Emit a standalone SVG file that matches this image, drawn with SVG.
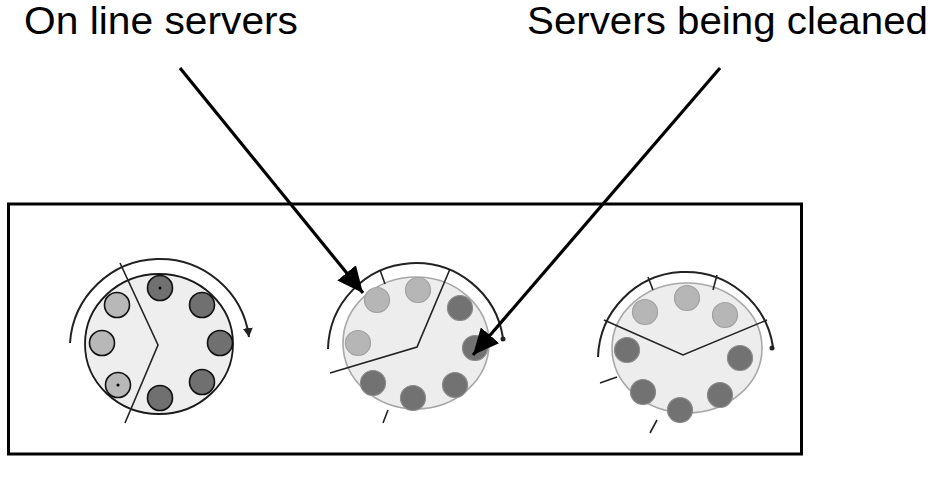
<svg xmlns="http://www.w3.org/2000/svg" width="930" height="482" viewBox="0 0 930 482">
<defs>
<style>
.lbl{font-family:"Liberation Sans",Arial,sans-serif;font-size:39px;fill:#000}
.ptr{stroke:#000;stroke-width:3.2;fill:none}
.wheel1{fill:#eeeeee;stroke:#1a1a1a;stroke-width:1.8}
.wheel2{fill:#ededed;stroke:#a8a8a8;stroke-width:1.6}
.arc{fill:none;stroke:#222;stroke-width:2}
.ln{fill:none;stroke:#222;stroke-width:1.6}
.d1{fill:#707070;stroke:#111;stroke-width:1.6}
.l1{fill:#b8b8b8;stroke:#111;stroke-width:1.6}
.d2{fill:#727272;stroke:#8a8a8a;stroke-width:1.2}
.l2{fill:#b6b6b6;stroke:#a0a0a0;stroke-width:1.2}
</style>
<marker id="ah" markerUnits="userSpaceOnUse" markerWidth="30" markerHeight="24" refX="26" refY="12" orient="auto">
<path d="M0,0 L26,12 L0,24 Z" fill="#000"/>
</marker>
<marker id="sm" markerUnits="userSpaceOnUse" markerWidth="12" markerHeight="12" refX="9" refY="6" orient="auto">
<path d="M0,1 L9,6 L0,11 Z" fill="#222"/>
</marker>
</defs>
<rect id="frame" x="8.5" y="204" width="793" height="250" fill="#fff" stroke="#000" stroke-width="3"/>
<g id="label-online"><text class="lbl" x="24" y="34" textLength="274" lengthAdjust="spacingAndGlyphs">On line servers</text></g>
<g id="label-cleaned"><text class="lbl" x="527" y="34" textLength="401" lengthAdjust="spacingAndGlyphs">Servers being cleaned</text></g>
<g id="wheel-left">
<ellipse class="wheel1" cx="159" cy="344" rx="74" ry="70"/>
<path class="arc" d="M70,343 A90,90 0 0 1 249,337" marker-end="url(#sm)"/>
<polyline class="ln" points="120,263 158,345 125,423"/>
<circle class="d1" cx="160" cy="288" r="12.5"/>
<circle cx="160" cy="288" r="1.5" fill="#000"/>
<circle class="d1" cx="202" cy="305" r="12.5"/>
<circle class="d1" cx="220" cy="343" r="12.5"/>
<circle class="d1" cx="202" cy="382" r="12.5"/>
<circle class="d1" cx="160" cy="398" r="12.5"/>
<circle class="l1" cx="118" cy="385" r="12.5"/>
<circle cx="118" cy="385" r="1.5" fill="#000"/>
<circle class="l1" cx="102" cy="343" r="12.5"/>
<circle class="l1" cx="117" cy="305" r="12.5"/>
</g>
<g id="wheel-middle">
<ellipse class="wheel2" cx="416" cy="343" rx="73" ry="66"/>
<path class="arc" d="M328,349 A88,88 0 0 1 503,338"/>
<circle cx="503" cy="339" r="2.5" fill="#222"/>
<line class="ln" x1="380" y1="270" x2="385" y2="284"/>
<polyline class="ln" points="450,269 417,347 330,373"/>
<line class="ln" x1="388" y1="410" x2="383" y2="423"/>
<circle class="l2" cx="418" cy="290" r="12.5"/>
<circle class="l2" cx="377" cy="300" r="12.5"/>
<circle class="l2" cx="358" cy="343" r="12.5"/>
<circle class="d2" cx="373" cy="383" r="12.5"/>
<circle class="d2" cx="413" cy="398" r="12.5"/>
<circle class="d2" cx="455" cy="385" r="12.5"/>
<circle class="d2" cx="475" cy="348" r="12.5"/>
<circle class="d2" cx="460" cy="308" r="12.5"/>
</g>
<g id="wheel-right">
<ellipse class="wheel2" cx="687" cy="348" rx="75" ry="65"/>
<path class="arc" d="M598,357 A88,88 0 0 1 773,347"/>
<circle cx="772" cy="348" r="2.5" fill="#222"/>
<line class="ln" x1="648" y1="277" x2="653" y2="290"/>
<line class="ln" x1="717" y1="275" x2="713" y2="290"/>
<polyline class="ln" points="604,320 683,355 767,320"/>
<line class="ln" x1="600" y1="383" x2="617" y2="377"/>
<line class="ln" x1="657" y1="420" x2="650" y2="433"/>
<circle class="l2" cx="687" cy="298" r="12.5"/>
<circle class="l2" cx="645" cy="312" r="12.5"/>
<circle class="l2" cx="725" cy="315" r="12.5"/>
<circle class="d2" cx="627" cy="350" r="12.5"/>
<circle class="d2" cx="740" cy="358" r="12.5"/>
<circle class="d2" cx="643" cy="392" r="12.5"/>
<circle class="d2" cx="680" cy="410" r="12.5"/>
<circle class="d2" cx="720" cy="395" r="12.5"/>
</g>
<g id="connectors">
<line class="ptr" x1="180" y1="68" x2="363" y2="293" marker-end="url(#ah)"/>
<line class="ptr" x1="720" y1="68" x2="473" y2="355" marker-end="url(#ah)"/>
</g>
</svg>
